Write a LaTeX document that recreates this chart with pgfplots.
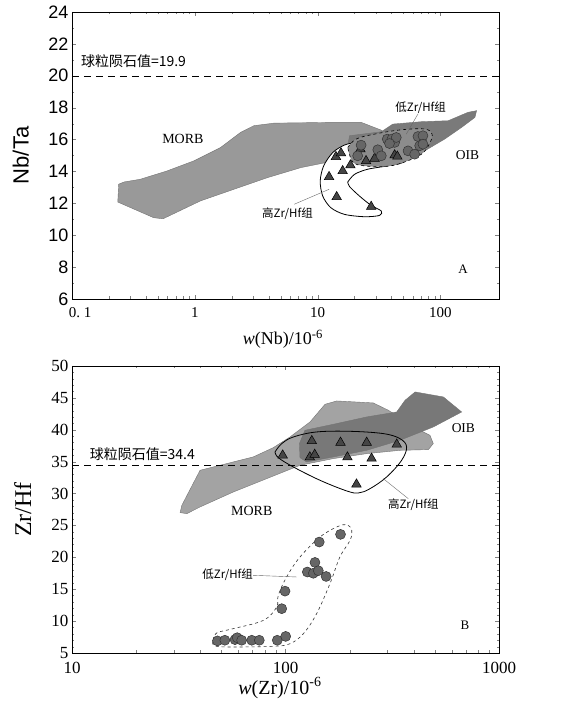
\documentclass[border=0pt]{standalone}
\usepackage{fontspec}
\setmainfont{Liberation Serif}
\newfontfamily\arial{Liberation Sans}
\newfontfamily\cjk{Noto Sans CJK SC}
\usepackage{pgfplots}
\pgfplotsset{compat=1.18}
\definecolor{morbA}{gray}{0.60}
\definecolor{oibA}{gray}{0.48}
\definecolor{ellA}{gray}{0.55}
\definecolor{morbB}{gray}{0.64}
\definecolor{oibB}{gray}{0.47}
\definecolor{trif}{gray}{0.27}
\definecolor{circf}{gray}{0.40}
\begin{document}
\begin{tikzpicture}
\path[use as bounding box] (0,0) rectangle (567pt,709pt);
% ---------------- Panel A ----------------
\begin{axis}[at={(72pt,410pt)}, anchor=south west, width=427pt, height=287pt, scale only axis,
  xmode=log, xmin=0.1, xmax=300, ymin=6, ymax=24,
  ytick={6,8,...,24}, minor y tick num=1,
  yticklabels={6,8,10,12,14,16,18,20,22,24},
  xtick={0.1,1,10,100},
  xticklabels={{\rlap{\hspace{-3pt}0.~1}},{1},{10},{100}},
  tick align=inside, major tick length=4pt, minor tick length=2.5pt,
  /pgf/number format/assume math mode=true,
  yticklabel style={font=\arial\fontsize{18}{18}\selectfont},
  xticklabel style={font=\fontsize{15}{15}\selectfont, yshift=-5pt},
  ylabel={\arial Nb/Ta}, ylabel style={font=\fontsize{22}{22}\selectfont, at={(axis description cs:-0.12,0.5)}, anchor=center},
  xlabel={\textit{w}(Nb)/10\textsuperscript{-6}}, xlabel style={font=\fontsize{18}{18}\selectfont, at={(axis description cs:0.494,-0.14)}, anchor=center},
  axis line style={line width=0.7pt}]
\addplot[fill=morbA, draw=black!55, line width=0.4pt] coordinates {
(0.266,13.34)(0.360,13.51)(0.594,14.03)(0.98,14.66)(1.62,15.50)(2.36,16.45)(3.03,16.87)(4.42,17.03)(13.7,17.08)(22.6,17.08)(33,16.59)(37.3,16.24)(35,14.9)(21,14.6)(13.7,14.66)(7.31,14.24)(3.90,13.61)(2.08,12.88)(1.11,12.15)(0.551,11.03)(0.462,11.10)(0.236,12.08)(0.240,13.2)} -- cycle;
\addplot[fill=oibA, draw=black!55, line width=0.4pt] coordinates {
(17.6,15.61)(18.2,16.24)(33.0,16.49)(41.0,16.97)(70,17.12)(115.6,17.18)(168,17.71)(197,17.81)(191,17.39)(148.6,16.76)(108.4,16.03)(74.5,15.29)(48,14.77)(29,14.45)(20,14.56)(17.6,14.98)} -- cycle;
\addplot[smooth, tension=0.5, fill=white, draw=black, line width=0.8pt] coordinates {
(17.6,13.34)(20.0,13.82)(25.6,14.14)(37.3,14.35)(49.5,14.56)(52.7,14.98)(48.0,15.36)(35.1,15.50)(25.6,15.65)(20.0,15.78)(16.5,15.65)(13.3,15.19)(11.2,14.35)(10.5,13.40)(11.0,12.46)(12.8,11.73)(16.5,11.31)(24.0,11.16)(31.9,11.24)(33.0,11.52)(27.3,11.87)(21.9,12.46)(18.2,13.05)(17.6,13.34)};
\addplot[smooth, tension=0.6, fill=ellA, draw=black, dashed, line width=0.6pt] coordinates {
(17.6,15.50)(20.6,16.03)(29.0,16.34)(48.0,16.61)(74.5,16.66)(85.5,16.34)(81.9,15.78)(70.0,15.08)(48.0,14.52)(35.1,14.31)(24.0,14.35)(19.3,14.60)(17.6,15.50)};
\addplot[black, line width=1.5pt, dash pattern=on 7pt off 5pt] coordinates {(0.1,19.95)(300,19.95)};
\addplot[only marks, mark=triangle*, mark size=5.5pt, mark options={fill=trif, draw=black, line width=0.5pt}] coordinates {
(14.1,14.92)(15.5,15.15)(12.4,13.66)(16.0,14.03)(18.5,14.39)(14.3,12.40)(27.3,11.79)(22.3,15.40)(24.8,14.66)(29.1,14.81)(42.4,15.02)(44.6,14.94)};
\addplot[only marks, mark=*, mark size=5pt, mark options={fill=circf, draw=black!80, line width=0.5pt}] coordinates {
(21.2,14.98)(22.6,15.65)(30.9,15.36)(33.0,14.98)(36.9,16.03)(40.3,16.03)(42.4,15.82)(43.7,16.13)(38.5,15.75)(54.5,15.29)(61.7,15.08)(65.6,16.19)(72.1,16.24)(67.8,15.61)(72.1,15.71)};
\draw[black!60, line width=0.4pt] (axis cs:65.6,17.6) -- (axis cs:52.7,16.34);
\draw[black!60, line width=0.4pt] (axis cs:6.44,11.94) -- (axis cs:12.4,12.88);
\node[anchor=west, font=\cjk\fontsize{14}{14}\selectfont, inner sep=0pt] at (axis cs:0.118,20.9) {球粒陨石值=19.9};
\node[font=\fontsize{14}{14}\selectfont] at (axis cs:0.8,16.03) {MORB};
\node[font=\fontsize{13.5}{13.5}\selectfont] at (axis cs:166,15.04) {OIB};
\node[font=\cjk\fontsize{11.5}{11.5}\selectfont] at (axis cs:69,18.0) {低Zr/Hf组};
\node[font=\cjk\fontsize{11.5}{11.5}\selectfont] at (axis cs:5.69,11.35) {高Zr/Hf组};
\node[font=\fontsize{13}{13}\selectfont] at (axis cs:153,7.85) {A};
\end{axis}
% ---------------- Panel B ----------------
\begin{axis}[at={(72pt,56pt)}, anchor=south west, width=427pt, height=287pt, scale only axis,
  xmode=log, xmin=10, xmax=1000, ymin=5, ymax=50,
  ytick={5,10,...,50}, minor y tick num=4,
  yticklabels={5,10,15,20,25,30,35,40,45,50},
  xtick={10,100,1000},
  xticklabels={{10},{100},{1000}},
  tick align=inside, major tick length=4pt, minor tick length=2.5pt,
  /pgf/number format/assume math mode=true,
  yticklabel style={font=\fontsize{17}{17}\selectfont},
  xticklabel style={font=\fontsize{17}{17}\selectfont, yshift=-6pt},
  ylabel={Zr/Hf}, ylabel style={font=\fontsize{24}{24}\selectfont, at={(axis description cs:-0.115,0.5)}, anchor=center},
  xlabel={\textit{w}(Zr)/10\textsuperscript{-6}}, xlabel style={font=\fontsize{20}{20}\selectfont, at={(axis description cs:0.487,-0.122)}, anchor=center},
  axis line style={line width=0.7pt}]
\addplot[fill=morbB, draw=black!55, line width=0.4pt] coordinates {
(32.1,27.01)(32.7,28.16)(39.8,33.65)(45.9,34.17)(70.6,35.74)(87.7,37.20)(105.0,38.87)(130.3,41.23)(153.2,44.0)(173.8,44.52)(257.6,44.21)(303.2,43.06)(411.2,40.18)(475.0,39.13)(492.3,37.83)(466.6,36.89)(343.6,36.78)(239.9,36.26)(167.5,35.48)(116.9,34.43)(81.7,32.34)(57.0,30.25)(39.8,27.90)(34.5,26.85)} -- cycle;
\addplot[fill=oibB, draw=black!55, line width=0.4pt] coordinates {
(123.3,39.92)(167.5,40.86)(239.9,42.01)(331.6,42.79)(362.9,44.62)(404.6,45.93)(548.6,45.15)(668.6,42.79)(492.3,40.44)(343.6,38.35)(239.9,36.78)(167.5,35.74)(125.7,34.95)(116.9,35.63)(116.2,37.83)} -- cycle;
\addplot[smooth, tension=0.6, draw=black, line width=0.8pt] coordinates {
(89.3,36.52)(96.0,37.83)(108.8,38.87)(140.0,39.66)(200.6,39.76)(287.2,39.40)(343.6,38.61)(369.3,37.31)(349.8,35.21)(297.7,32.60)(248.9,30.77)(219.5,30.09)(193.6,30.41)(145.1,32.08)(108.8,34.17)(92.5,35.63)(89.3,36.52)};
\addplot[black, line width=1.5pt, dash pattern=on 7pt off 5pt] coordinates {(10,34.4)(1000,34.4)};
\addplot[only marks, mark=triangle*, mark size=5.5pt, mark options={fill=trif, draw=black, line width=0.5pt}] coordinates {
(97,36.0)(132.8,38.25)(130,35.7)(137,36.1)(181,38.0)(195,35.7)(240,38.0)(253,35.5)(332,37.7)(215,31.45)};
\addplot[smooth, tension=0.6, draw=black!80, dashed, line width=0.6pt] coordinates {
(45.9,6.99)(47.6,8.14)(57.0,8.82)(78.8,10.12)(90.9,12.21)(92.5,14.04)(101.2,16.92)(116.9,20.05)(145.1,23.19)(173.8,24.76)(193.6,25.13)(204.3,24.24)(200.6,22.67)(179.8,20.05)(161.5,15.87)(139.9,11.17)(121.3,8.03)(105.0,6.46)(87.7,6.05)(57.0,5.94)(47.6,6.05)(45.6,6.46)(45.9,6.99)};
\addplot[only marks, mark=*, mark size=5pt, mark options={fill=circf, draw=black!80, line width=0.5pt}] coordinates {
(48,6.9)(52,7.0)(58,7.1)(59.4,7.4)(62.3,7.0)(69.5,7.0)(75.4,7.0)(91.5,7.0)(100.2,7.6)(96,11.95)(99.5,14.7)(126.5,17.7)(137.4,19.2)(135,17.5)(142.5,17.9)(155,17.0)(143.9,22.4)(181,23.6)};
\draw[black!60, line width=0.4pt] (axis cs:287,32.34) -- (axis cs:376,29.2);
\draw[black!60, line width=0.4pt] (axis cs:70.6,17.18) -- (axis cs:112.7,16.92);
\node[anchor=west, font=\cjk\fontsize{14}{14}\selectfont, inner sep=0pt] at (axis cs:12.1,36.2) {球粒陨石值=34.4};
\node[font=\fontsize{14}{14}\selectfont] at (axis cs:69.5,27.3) {MORB};
\node[font=\fontsize{13.5}{13.5}\selectfont] at (axis cs:681,40.3) {OIB};
\node[font=\cjk\fontsize{11.5}{11.5}\selectfont] at (axis cs:397,28.3) {高Zr/Hf组};
\node[font=\cjk\fontsize{11.5}{11.5}\selectfont] at (axis cs:53.6,17.3) {低Zr/Hf组};
\node[font=\fontsize{13}{13}\selectfont] at (axis cs:693,9.3) {B};
\end{axis}
\end{tikzpicture}
\end{document}
